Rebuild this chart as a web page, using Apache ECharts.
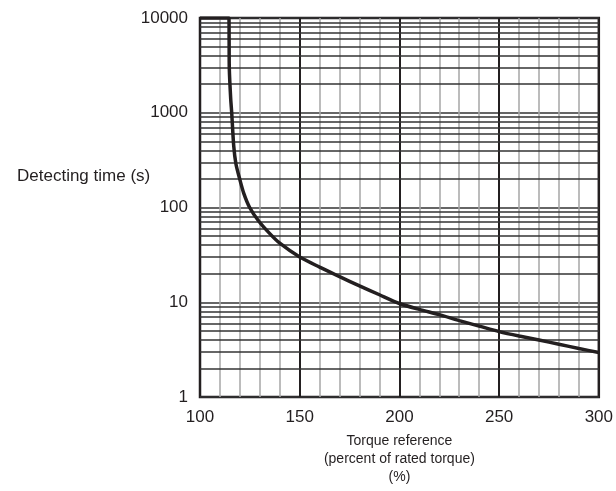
<!DOCTYPE html>
<html>
<head>
<meta charset="utf-8">
<script src="https://cdn.jsdelivr.net/npm/echarts@6/dist/echarts.min.js"></script>
<style>
  html, body { margin: 0; padding: 0; background: #fff; }
  #main { width: 616px; height: 491px; }
</style>
</head>
<body>
<div id="main"></div>
<script>
// 曲线数据 [torque %, detecting time s]
var torque = [100, 114.5, 114.6, 114.7, 115.4, 115.9, 116.9, 118, 119.9, 122, 124.9, 129.4, 135, 140, 150, 160, 170, 180, 190, 200, 210, 220, 230, 240, 250, 260, 270, 280, 290, 300];
var detectTime = [10000, 10000, 6000, 2900, 1400, 1000, 450, 290, 200, 140, 100, 72, 53, 42, 30, 23.5, 18.6, 14.9, 12, 9.7, 8.4, 7.4, 6.4, 5.6, 4.9, 4.4, 4.0, 3.6, 3.25, 2.95];

// 刻度
var xTicksMajor = [100, 150, 200, 250, 300];
var yTicks = [1, 10, 100, 1000, 10000];

var xName = 'Torque reference\n(percent of rated torque)\n(%)';
var yName = 'Detecting time (s)';

var ink = '#231f20';
var fontFam = '"Liberation Sans", Arial, sans-serif';

// 对数网格细线 2..9 x 10^k
var minorLines = [];
for (var k = 0; k < 4; k++) {
    for (var m = 2; m <= 9; m++) {
        minorLines.push({ yAxis: m * Math.pow(10, k) });
    }
}

var curve = torque.map(function (t, i) { return [t, detectTime[i]]; });

var chart = echarts.init(document.getElementById('main'));
var option = {
    animation: false,
    textStyle: { fontFamily: fontFam },
    grid: {
        left: 200,
        right: 13,
        top: 18,
        bottom: 89,
        show: true,
        borderColor: ink,
        borderWidth: 2.5,
        backgroundColor: 'transparent'
    },
    graphic: [{
        type: 'text',
        left: 17,
        top: 168,
        style: {
            text: yName,
            fill: ink,
            font: '17px ' + fontFam
        }
    }],
    xAxis: [
        {
            // 细灰线 每 10
            type: 'value',
            min: 100,
            max: 300,
            interval: 10,
            axisLine: { show: false },
            axisTick: { show: false },
            axisLabel: { show: false },
            splitLine: {
                show: true,
                showMinLine: false,
                showMaxLine: false,
                lineStyle: { color: '#a6a6a6', width: 1.5 }
            }
        },
        {
            // 粗黑线 每 50 + 标签
            type: 'value',
            position: 'bottom',
            min: 100,
            max: 300,
            interval: 50,
            axisLine: { show: false },
            axisTick: { show: false },
            axisLabel: {
                margin: 12,
                color: ink,
                fontSize: 17,
                fontFamily: fontFam,
                customValues: xTicksMajor
            },
            splitLine: {
                show: true,
                showMinLine: false,
                showMaxLine: false,
                lineStyle: { color: ink, width: 2 }
            },
            name: xName,
            nameLocation: 'middle',
            nameGap: 35,
            nameTextStyle: {
                color: ink,
                fontSize: 14,
                lineHeight: 18,
                fontFamily: fontFam
            }
        }
    ],
    yAxis: {
        type: 'log',
        logBase: 10,
        min: 1,
        max: 10000,
        axisLine: { show: false },
        axisTick: { show: false },
        axisLabel: {
            margin: 12,
            color: ink,
            fontSize: 17,
            fontFamily: fontFam,
            customValues: yTicks,
            formatter: function (v) { return String(Math.round(v)); }
        },
        splitLine: {
            show: true,
            lineStyle: { color: '#333', width: 1.5 }
        }
    },
    series: [
        {
            name: 'grid',
            type: 'line',
            xAxisIndex: 1,
            data: [],
            silent: true,
            markLine: {
                silent: true,
                symbol: 'none',
                label: { show: false },
                animation: false,
                lineStyle: { color: '#333', width: 1.5, type: 'solid' },
                data: minorLines
            }
        },
        {
            name: 'detecting',
            type: 'line',
            xAxisIndex: 1,
            data: curve,
            showSymbol: false,
            smooth: 0.25,
            lineStyle: { color: ink, width: 3.5 },
            z: 5
        }
    ]
};
chart.setOption(option);
</script>
</body>
</html>
